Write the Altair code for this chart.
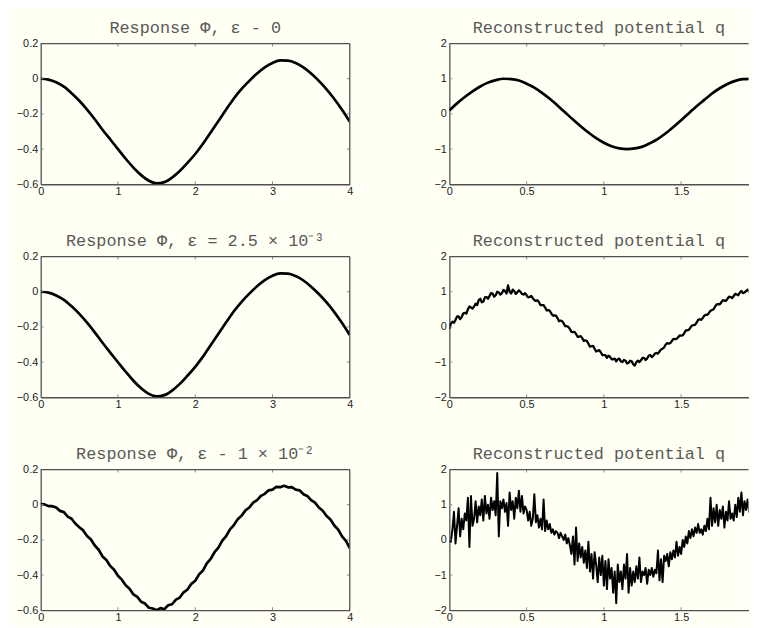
import altair as alt
import pandas as pd

# ---------------- data ----------------
PHI_CLEAN = [0.000, -0.005, -0.020, -0.045, -0.082, -0.125, -0.175, -0.230, -0.290, -0.345,
             -0.400, -0.455, -0.505, -0.548, -0.580, -0.595, -0.588, -0.562, -0.525, -0.478,
             -0.428, -0.370, -0.305, -0.240, -0.175, -0.112, -0.058, -0.012, 0.030, 0.065,
             0.090, 0.104, 0.103, 0.090, 0.065, 0.030, -0.012, -0.060, -0.115, -0.177, -0.245]
PHI_E25 = [0.000, -0.005, -0.021, -0.046, -0.083, -0.126, -0.176, -0.231, -0.290, -0.346,
           -0.401, -0.455, -0.506, -0.549, -0.581, -0.595, -0.588, -0.562, -0.524, -0.477,
           -0.427, -0.369, -0.304, -0.239, -0.174, -0.111, -0.057, -0.011, 0.031, 0.066,
           0.091, 0.104, 0.103, 0.089, 0.064, 0.029, -0.013, -0.061, -0.116, -0.178, -0.246]
PHI_E1 = [0.004, 0.002, -0.008, -0.008, -0.016, -0.035, -0.042, -0.068, -0.080, -0.108,
          -0.128, -0.146, -0.178, -0.198, -0.232, -0.256, -0.294, -0.314, -0.348, -0.370,
          -0.404, -0.426, -0.458, -0.478, -0.510, -0.524, -0.552, -0.562, -0.586, -0.590,
          -0.600, -0.588, -0.594, -0.572, -0.566, -0.540, -0.528, -0.498, -0.482, -0.450,
          -0.432, -0.396, -0.374, -0.334, -0.308, -0.270, -0.244, -0.204, -0.178, -0.140,
          -0.116, -0.082, -0.062, -0.032, -0.016, 0.012, 0.026, 0.050, 0.062, 0.082,
          0.086, 0.102, 0.100, 0.108, 0.099, 0.100, 0.086, 0.082, 0.060, 0.050,
          0.026, 0.012, -0.016, -0.034, -0.064, -0.084, -0.118, -0.142, -0.180, -0.206, -0.246]
PHI_X = [round(i * 0.1, 3) for i in range(len(PHI_CLEAN))]
PHI_X_DENSE = [round(i * 0.05, 3) for i in range(len(PHI_E1))]

Q_CLEAN = [0.10, 0.30, 0.48, 0.64, 0.78, 0.89, 0.96, 1.00, 0.99, 0.95,
           0.86, 0.75, 0.60, 0.43, 0.24, 0.04, -0.16, -0.35, -0.53, -0.69,
           -0.82, -0.92, -0.98, -1.00, -0.98, -0.93, -0.83, -0.71, -0.55, -0.37,
           -0.18, 0.02, 0.22, 0.40, 0.58, 0.73, 0.85, 0.94, 0.99, 1.00]
Q_E25 = [-0.05, 0.10, 0.15, 0.12, 0.20, 0.30, 0.30, 0.22, 0.28, 0.38,
         0.40, 0.38, 0.50, 0.58, 0.55, 0.52, 0.58, 0.66, 0.62, 0.76,
         0.80, 0.70, 0.72, 0.84, 0.85, 0.80, 0.88, 0.96, 0.95, 0.86,
         0.90, 1.00, 0.98, 0.92, 0.96, 1.05, 1.02, 0.95, 1.18, 1.00,
         0.95, 1.06, 1.02, 0.94, 0.98, 1.04, 1.00, 0.94, 0.92, 0.96,
         0.90, 0.84, 0.85, 0.88, 0.82, 0.76, 0.74, 0.76, 0.70, 0.62,
         0.62, 0.62, 0.55, 0.47, 0.48, 0.46, 0.38, 0.32, 0.33, 0.32,
         0.25, 0.16, 0.18, 0.16, 0.10, 0.02, 0.02, 0.00, -0.06, -0.14,
         -0.15, -0.14, -0.20, -0.28, -0.28, -0.26, -0.32, -0.40, -0.38, -0.40,
         -0.48, -0.56, -0.55, -0.54, -0.62, -0.70, -0.68, -0.66, -0.72, -0.80,
         -0.80, -0.80, -0.88, -0.82, -0.85, -0.92, -0.92, -0.90, -0.98, -0.92,
         -0.90, -0.98, -1.00, -0.94, -0.96, -1.04, -1.02, -0.96, -0.98, -1.06,
         -1.10, -1.00, -0.96, -1.00, -0.95, -0.88, -0.88, -0.94, -0.90, -0.82,
         -0.80, -0.86, -0.82, -0.76, -0.74, -0.76, -0.70, -0.64, -0.62, -0.58,
         -0.50, -0.46, -0.48, -0.46, -0.40, -0.34, -0.35, -0.34, -0.30, -0.24,
         -0.25, -0.24, -0.18, -0.10, -0.10, -0.08, -0.02, 0.04, 0.05, 0.06,
         0.12, 0.20, 0.22, 0.20, 0.25, 0.32, 0.35, 0.34, 0.40, 0.46,
         0.48, 0.50, 0.58, 0.64, 0.65, 0.64, 0.70, 0.76, 0.75, 0.74,
         0.80, 0.86, 0.85, 0.82, 0.88, 0.94, 0.92, 0.90, 0.98, 1.02,
         0.96, 0.98, 1.02, 1.06, 1.00, 1.02, 1.06]
Q_E1 = [0.00, -0.05, 0.30, 0.80, -0.10, 0.40, 0.90, 0.10, 0.60, 0.30,
        0.75, 0.55, 1.20, -0.20, 1.25, 0.40, 0.60, 1.10, 0.50, 0.95,
        0.70, 1.15, 0.55, 1.25, 0.75, 1.00, 0.60, 1.20, 0.85, 1.10,
        0.70, 1.90, 0.10, 1.10, 0.90, 1.15, 0.80, 1.05, 0.40, 1.35,
        0.85, 1.10, 0.60, 1.20, 0.90, 1.40, 0.80, 1.25, 0.75, 0.95,
        0.85, 0.55, 0.80, 0.40, 0.60, 1.30, 0.50, 0.70, 0.35, 0.60,
        0.30, 1.15, 0.25, 0.55, 0.30, 0.45, 0.20, 0.30, 0.15, 0.25,
        0.20, 0.05, 0.20, 0.10, 0.00, 0.15, -0.10, 0.05, -0.15, -0.40,
        0.10, -0.70, 0.35, -0.60, -0.10, -0.50, -0.20, -0.65, -0.30, -0.80,
        -0.05, -0.90, -0.40, -1.10, -0.35, -0.70, -1.20, -0.50, -1.00, -0.45,
        -1.30, -0.60, -1.40, -0.55, -1.10, -0.80, -1.50, -0.90, -1.80, -0.70,
        -1.20, -0.90, -1.40, -0.70, -1.10, -0.40, -1.50, -0.80, -1.30, -0.90,
        -1.20, -0.75, -1.10, -0.50, -1.20, -0.90, -1.00, -0.80, -1.25, -0.85,
        -1.00, -0.80, -1.05, -0.85, -0.95, -0.30, -1.15, -0.55, -1.20, -0.45,
        -0.60, -0.40, -0.75, -0.35, -0.55, -0.30, -0.50, -0.05, -0.45, -0.20,
        -0.40, 0.00, -0.20, 0.10, -0.10, 0.25, 0.05, 0.30, 0.10, 0.35,
        0.20, 0.45, 0.20, 0.30, 0.15, 0.40, 0.25, 0.60, 0.30, 1.20,
        0.40, 0.90, 0.50, 1.00, 0.40, 0.85, 0.60, 0.95, 0.35, 0.80,
        0.55, 1.10, 0.60, 0.75, 0.55, 1.00, 0.65, 1.20, 0.80, 1.35,
        0.70, 1.10, 0.85, 1.15, 0.80, 1.05, 1.20]
Q_X = [round(i * 0.05, 3) for i in range(len(Q_CLEAN))]
Q_X2 = [round(i * 0.01, 3) for i in range(len(Q_E25))]
Q_X3 = [round(i * 0.01, 3) for i in range(len(Q_E1))]

TITLES_LEFT = ["Response \u03a6, \u03b5 - 0",
               "Response \u03a6, \u03b5 = 2.5 \u00d7 10\u207b\u00b3",
               "Response \u03a6, \u03b5 - 1 \u00d7 10\u207b\u00b2"]
TITLE_RIGHT = "Reconstructed potential q"

LEFT_XDOM = [0, 4]
LEFT_YDOM = [-0.6, 0.2]
LEFT_XTICKS = [0, 1, 2, 3, 4]
LEFT_YTICKS = [-0.6, -0.4, -0.2, 0, 0.2]
RIGHT_XDOM = [0, 1.936]
RIGHT_YDOM = [-2, 2]
RIGHT_XTICKS = [0, 0.5, 1, 1.5]
RIGHT_YTICKS = [-2, -1, 0, 1, 2]

# ---------------- styling ----------------
BG = "#fffff4"
FRAME = "#505050"
TICKC = "#8a8a8a"
TL = 3
LW, LH = 312, 142
RW, RH = 302, 142


def panel(xs, ys, title, xdom, xticks, ydom, yticks, w, h, smooth, sw, right_edge):
    df = pd.DataFrame({"x": xs, "y": ys})
    xsc = alt.Scale(domain=xdom, nice=False, zero=False)
    ysc = alt.Scale(domain=ydom, nice=False, zero=False)
    common = dict(grid=False, ticks=False, domain=True, domainColor=FRAME, domainWidth=1.3,
                  labelFont="Liberation Sans", labelFontSize=11, labelColor="#222222",
                  title=None, format="~g", labelOverlap=False)
    xax = alt.Axis(values=xticks, labelPadding=1, labelFlush=False, **common)
    yax = alt.Axis(values=yticks, labelPadding=3, **common)
    line = alt.Chart(df).mark_line(
        color="black", strokeWidth=sw, clip=True, strokeJoin="round",
        interpolate="monotone" if smooth else "linear",
    ).encode(
        x=alt.X("x:Q", scale=xsc, axis=xax),
        y=alt.Y("y:Q", scale=ysc, axis=yax),
    )
    xt = pd.DataFrame({"x": [v for v in xticks if xdom[0] < v < xdom[1]]})
    yt = pd.DataFrame({"y": [v for v in yticks if ydom[0] < v < ydom[1]]})
    xtop = alt.Chart(xt).mark_rule(color=TICKC, strokeWidth=1).encode(
        x=alt.X("x:Q", scale=xsc, axis=xax), y=alt.value(0), y2=alt.value(TL))
    xbot = alt.Chart(xt).mark_rule(color=TICKC, strokeWidth=1).encode(
        x=alt.X("x:Q", scale=xsc, axis=xax), y=alt.value(h - TL), y2=alt.value(h))
    yleft = alt.Chart(yt).mark_rule(color=TICKC, strokeWidth=1).encode(
        y=alt.Y("y:Q", scale=ysc, axis=yax), x=alt.value(0), x2=alt.value(TL))
    fdf = pd.DataFrame({"k": [0]})
    top = alt.Chart(fdf).mark_rule(color=FRAME, strokeWidth=1.3).encode(
        x=alt.value(0), x2=alt.value(w), y=alt.value(0))
    layers = [line, xtop, xbot, yleft, top]
    if right_edge:
        yright = alt.Chart(yt).mark_rule(color=TICKC, strokeWidth=1).encode(
            y=alt.Y("y:Q", scale=ysc, axis=yax), x=alt.value(w - TL), x2=alt.value(w))
        rline = alt.Chart(fdf).mark_rule(color=FRAME, strokeWidth=1.3).encode(
            x=alt.value(w), y=alt.value(0), y2=alt.value(h))
        layers += [yright, rline]
    return alt.layer(*layers).properties(
        width=w, height=h,
        title=alt.TitleParams(title, font="Liberation Mono", fontSize=17, fontWeight="normal",
                              color="#5a5a5a", offset=1, anchor="middle"),
    )


left_data = [(PHI_X, PHI_CLEAN, True, 2.7), (PHI_X, PHI_E25, True, 2.7), (PHI_X_DENSE, PHI_E1, False, 2.7)]
right_data = [(Q_X, Q_CLEAN, True, 2.7), (Q_X2, Q_E25, False, 2.3), (Q_X3, Q_E1, False, 2.0)]

rows = []
for i in range(3):
    lx, ly, ls, lw = left_data[i]
    rx, ry, rs, rw = right_data[i]
    lp = panel(lx, ly, TITLES_LEFT[i], LEFT_XDOM, LEFT_XTICKS, LEFT_YDOM, LEFT_YTICKS, LW, LH, ls, lw, True)
    rp = panel(rx, ry, TITLE_RIGHT, RIGHT_XDOM, RIGHT_XTICKS, RIGHT_YDOM, RIGHT_YTICKS, RW, RH, rs, rw, False)
    rows.append(alt.hconcat(lp, rp, spacing=79.5))

chart = alt.vconcat(*rows, spacing=34).properties(
    padding={"left": 7, "top": 7, "right": 0, "bottom": 0},
    background=BG,
).configure_view(stroke="transparent")

chart.save("out.html", embed_options={"renderer": "svg", "actions": False})
